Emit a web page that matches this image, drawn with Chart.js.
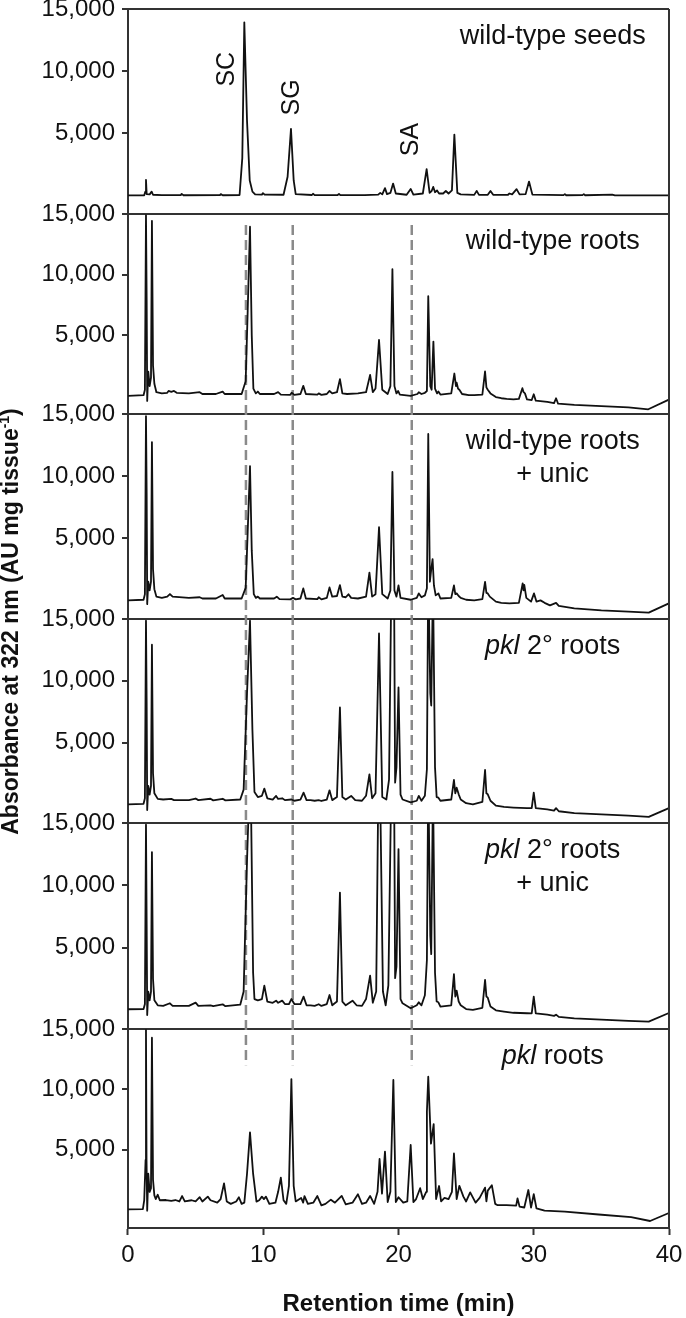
<!DOCTYPE html>
<html>
<head>
<meta charset="utf-8">
<script src="https://cdn.jsdelivr.net/npm/chart.js@4.4.1/dist/chart.umd.min.js"></script>
<style>
  html, body { margin: 0; padding: 0; background: #fff; }
</style>
</head>
<body>
<canvas id="chroma" width="686" height="1318"></canvas>
<script>
// retention time (min), absorbance (AU mg tissue-1)
const wtSeeds = [[0,0],[1.2,0],[1.28,300],[1.33,1250],[1.38,100],[1.6,80],[1.75,300],[1.85,50],[2.5,20],[3.9,20],[3.97,120],[4.1,10],[6.8,20],[6.86,100],[7,10],[8.25,30],[8.45,3000],[8.6,13930],[8.8,6000],[9.0,1200],[9.2,300],[9.4,80],[9.9,60],[9.98,180],[10.1,60],[11.5,50],[11.8,1500],[12.05,5350],[12.25,1200],[12.4,100],[13.6,30],[13.68,130],[13.8,20],[15.5,30],[15.6,110],[15.7,20],[17.5,20],[18.5,60],[18.65,200],[18.8,80],[19.0,580],[19.15,100],[19.4,200],[19.6,950],[19.8,150],[20.6,50],[20.9,520],[21.1,60],[21.8,150],[22.08,2115],[22.3,200],[22.45,350],[22.57,680],[22.7,250],[22.85,400],[23.0,150],[23.3,150],[23.5,350],[23.7,150],[23.95,400],[24.13,4890],[24.35,200],[24.6,80],[25.6,40],[25.78,360],[25.95,40],[26.6,40],[26.8,360],[27.0,40],[28.1,50],[28.2,150],[28.4,80],[28.73,500],[28.95,80],[29.4,100],[29.65,1110],[29.9,60],[32.2,20],[32.3,100],[32.4,10],[33.6,20],[33.7,100],[33.8,10],[35.8,60],[36,0],[40,0]];

const wtRoots = [[0,0],[1.15,50],[1.25,500],[1.33,14900],[1.38,7870],[1.42,-420],[1.5,2000],[1.6,800],[1.7,1500],[1.77,14440],[1.85,2500],[1.95,1000],[2.1,300],[2.5,200],[2.9,250],[3.0,400],[3.2,330],[3.4,400],[3.6,250],[4.5,200],[5.3,300],[5.5,150],[6.5,150],[7.0,350],[7.15,150],[8.4,150],[8.7,1200],[8.85,7000],[9.02,13950],[9.15,5000],[9.27,600],[9.45,200],[9.6,350],[9.75,150],[10.8,150],[11.1,300],[11.3,100],[12.0,80],[12.1,250],[12.3,80],[12.75,150],[12.96,820],[13.15,150],[14.0,100],[14.1,200],[14.3,80],[14.7,150],[14.9,400],[15.1,200],[15.45,300],[15.67,1375],[15.85,200],[16.2,150],[17.0,200],[17.6,300],[17.9,1730],[18.1,300],[18.3,600],[18.56,4610],[18.8,500],[19.2,150],[19.4,800],[19.55,10440],[19.7,800],[19.85,200],[19.97,400],[20.1,100],[20.9,0],[21.4,150],[21.5,300],[21.7,150],[21.95,250],[22.1,400],[22.2,8220],[22.35,800],[22.45,500],[22.58,4470],[22.7,600],[22.85,200],[22.95,350],[23.1,100],[23.9,200],[24.13,1840],[24.25,800],[24.3,1090],[24.4,600],[24.5,500],[24.7,150],[25.2,50],[25.6,50],[26.2,100],[26.4,2010],[26.5,700],[26.6,500],[26.8,200],[27.2,-100],[27.6,-200],[28.0,-250],[28.5,-300],[28.9,-250],[29.16,630],[29.25,300],[29.35,200],[29.5,-300],[29.85,-350],[30.0,130],[30.15,-400],[31.0,-500],[31.5,-600],[31.65,-200],[31.8,-650],[33,-750],[35,-850],[37,-950],[38.47,-1110],[39.95,-330]];

const wtRootsUnic = [[0,0],[1.15,50],[1.25,500],[1.33,14830],[1.38,8540],[1.42,-300],[1.5,1500],[1.6,800],[1.7,1500],[1.77,12740],[1.85,2500],[1.95,900],[2.1,300],[2.5,200],[2.9,300],[3.1,510],[3.3,300],[4.5,200],[5.3,250],[5.5,150],[6.5,150],[7.0,430],[7.15,150],[8.4,150],[8.7,1000],[8.85,5500],[9.02,10810],[9.15,4000],[9.3,500],[9.45,200],[9.6,300],[9.75,150],[10.8,150],[11.0,300],[11.2,100],[12.0,80],[12.2,200],[12.4,80],[12.75,150],[12.96,965],[13.15,150],[14.0,100],[14.1,250],[14.3,80],[14.7,200],[14.9,1045],[15.1,300],[15.45,350],[15.67,1230],[15.85,300],[16.1,250],[16.3,490],[16.5,200],[17.0,150],[17.6,300],[17.85,2230],[18.05,300],[18.3,500],[18.56,5890],[18.8,500],[19.2,150],[19.4,800],[19.55,10340],[19.7,800],[19.85,300],[20.0,1210],[20.15,200],[20.9,50],[21.35,200],[21.5,560],[21.7,250],[21.95,400],[22.1,970],[22.2,13390],[22.32,1500],[22.42,2500],[22.52,3320],[22.62,1200],[22.75,400],[22.95,560],[23.1,150],[23.9,200],[24.1,1200],[24.2,500],[24.3,560],[24.45,350],[24.6,200],[25.0,50],[25.6,0],[26.2,100],[26.4,1490],[26.5,600],[26.6,560],[26.75,300],[27.2,-100],[27.6,-200],[28.2,-250],[28.9,-200],[29.1,900],[29.18,1370],[29.25,800],[29.3,1250],[29.45,200],[29.8,-100],[30.02,560],[30.2,-100],[30.5,0],[30.8,-200],[31.2,-400],[31.65,-200],[31.85,-450],[33,-640],[35,-800],[37,-900],[38.5,-990],[39.95,-260]];

const pkl2Roots = [[0,0],[1.15,50],[1.25,500],[1.33,14860],[1.38,8110],[1.42,-450],[1.5,1500],[1.6,800],[1.7,1500],[1.77,12920],[1.85,2500],[1.95,900],[2.2,450],[2.6,400],[3.2,450],[3.4,350],[4.5,350],[5.0,480],[5.2,350],[6.1,460],[6.3,330],[7.0,460],[7.2,330],[8.3,400],[8.55,1200],[8.8,9000],[9.02,14860],[9.2,6000],[9.35,1000],[9.6,600],[9.9,700],[10.08,1280],[10.3,500],[10.7,400],[10.95,690],[11.1,450],[11.4,500],[11.6,350],[12.08,400],[12.3,300],[12.75,400],[12.98,955],[13.2,350],[13.5,350],[13.8,300],[14.1,350],[14.3,280],[14.7,400],[14.9,1140],[15.1,350],[15.45,600],[15.67,7840],[15.85,600],[16.1,400],[16.5,690],[16.8,350],[17.3,300],[17.6,700],[17.85,2440],[18.05,500],[18.3,900],[18.56,13830],[18.8,600],[19.1,400],[19.3,2000],[19.45,16000],[19.55,20000],[19.68,16000],[19.75,1760],[19.85,3000],[20.0,9460],[20.15,800],[20.3,400],[20.9,170],[21.35,300],[21.5,690],[21.7,300],[21.95,700],[22.1,2850],[22.2,19000],[22.35,9000],[22.42,8000],[22.55,18000],[22.7,3000],[22.82,600],[22.95,550],[23.1,300],[23.9,400],[24.1,1980],[24.2,900],[24.3,1360],[24.45,820],[24.6,400],[25.0,100],[25.5,5],[26.2,200],[26.4,2790],[26.5,900],[26.6,820],[26.8,300],[27.2,-100],[27.8,-200],[28.5,-250],[29.5,-300],[29.85,-300],[30.0,955],[30.15,-300],[31.0,-400],[31.5,-500],[31.65,-300],[31.85,-550],[33,-700],[35,-800],[37,-900],[38.5,-1010],[39.95,-320]];

const pkl2RootsUnic = [[0,80],[1.15,100],[1.25,500],[1.33,14860],[1.38,6840],[1.42,-380],[1.5,1500],[1.6,800],[1.7,1500],[1.77,12670],[1.85,2500],[1.95,800],[2.2,400],[2.6,350],[3.1,560],[3.3,350],[4.5,350],[5.0,610],[5.2,350],[6.1,400],[6.3,330],[7.0,480],[7.2,330],[8.3,450],[8.55,1500],[8.8,12000],[8.95,17000],[9.1,16000],[9.25,3000],[9.35,900],[9.6,800],[9.9,900],[10.08,1980],[10.3,700],[10.7,600],[10.95,770],[11.1,600],[11.4,770],[11.6,500],[11.9,500],[12.08,900],[12.3,500],[12.75,500],[12.98,1090],[13.2,400],[13.5,400],[13.8,350],[14.1,480],[14.3,350],[14.7,500],[14.9,1220],[15.1,400],[15.45,700],[15.67,9430],[15.85,700],[16.1,400],[16.6,770],[16.9,400],[17.3,350],[17.6,900],[17.9,2780],[18.1,600],[18.35,1500],[18.5,17000],[18.65,17000],[18.85,1500],[19.05,390],[19.25,2000],[19.45,17000],[19.55,20000],[19.68,17000],[19.75,2570],[19.85,3500],[20.0,12910],[20.15,900],[20.3,560],[20.9,160],[21.35,400],[21.5,640],[21.7,400],[21.95,1200],[22.1,4030],[22.2,19000],[22.35,6000],[22.42,4500],[22.55,18000],[22.7,3000],[22.82,700],[22.95,640],[23.1,300],[23.9,400],[24.1,2890],[24.2,1100],[24.3,1580],[24.45,700],[24.6,400],[25.0,100],[25.5,40],[26.2,200],[26.4,2430],[26.5,1100],[26.6,1010],[26.8,300],[27.2,0],[27.8,-100],[28.5,-200],[29.5,-240],[29.85,-250],[30.0,1090],[30.15,-250],[31.0,-350],[31.5,-450],[31.65,-350],[31.85,-530],[33,-650],[35,-750],[37,-850],[38.5,-910],[39.95,-240]];

const pklRoots = [[0,50],[1.1,60],[1.2,820],[1.3,4140],[1.33,14920],[1.37,4140],[1.42,-60],[1.5,3000],[1.6,1500],[1.7,1800],[1.77,14280],[1.85,2500],[1.95,1200],[2.05,900],[2.2,1260],[2.35,800],[2.8,820],[3.2,750],[3.5,820],[3.8,700],[4.0,1150],[4.2,700],[4.7,800],[5.0,700],[5.3,1050],[5.5,700],[5.9,1100],[6.1,800],[6.6,600],[6.85,900],[7.1,2200],[7.3,700],[7.6,500],[8.0,700],[8.2,1050],[8.4,500],[8.6,600],[8.8,3000],[9.02,6430],[9.25,3000],[9.5,690],[9.7,800],[9.9,1100],[10.05,900],[10.2,1100],[10.45,500],[10.9,600],[11.1,1500],[11.3,2670],[11.5,800],[11.7,500],[11.9,2000],[12.08,10850],[12.25,2000],[12.4,700],[12.8,990],[12.95,600],[13.05,1150],[13.3,500],[13.7,600],[14.0,1150],[14.3,380],[14.6,500],[15.0,850],[15.3,600],[15.8,1160],[16.1,460],[16.6,600],[17.0,1300],[17.3,500],[17.6,600],[17.9,1160],[18.2,500],[18.45,1500],[18.6,4220],[18.78,1350],[19.0,4840],[19.2,650],[19.4,1500],[19.62,10770],[19.8,650],[20.0,1050],[20.35,600],[20.65,700],[20.9,5380],[21.1,650],[21.3,900],[21.6,1800],[21.8,900],[22.05,1500],[22.1,8140],[22.2,11040],[22.4,5490],[22.6,7120],[22.78,900],[23.0,1980],[23.15,700],[23.4,1000],[23.7,900],[23.95,1500],[24.1,4680],[24.3,900],[24.5,2000],[24.8,1100],[25.0,700],[25.3,1450],[25.7,600],[26.0,1000],[26.4,1850],[26.5,700],[26.6,1600],[26.9,2050],[27.15,500],[27.3,400],[28.0,400],[28.7,350],[28.8,950],[28.95,280],[29.3,200],[29.6,1650],[29.8,200],[30.0,1300],[30.2,130],[30.8,-60],[32.3,-150],[34.8,-380],[37.2,-600],[38.6,-920],[39.95,-280]];

const traces = [wtSeeds, wtRoots, wtRootsUnic, pkl2Roots, pkl2RootsUnic, pklRoots];
const yTicks = [5000, 10000, 15000];
const xTicks = [0, 10, 20, 30, 40];
// retention times of the marked standards (SC, SG, SA)
const markerTimes = [8.72, 12.18, 20.98];
const peakNames = ['SC', 'SG', 'SA'];

const panelLabels = [
  [[['wild-type seeds', false]]],
  [[['wild-type roots', false]]],
  [[['wild-type roots', false]], [['+ unic', false]]],
  [[['pkl', true], [' 2\u00b0 roots', false]]],
  [[['pkl', true], [' 2\u00b0 roots', false]], [['+ unic', false]]],
  [[['pkl', true], [' roots', false]]]
];

const FONT = "'Liberation Sans', Arial, Helvetica, sans-serif";
const INK = '#111';
const AXIS = '#333';
const panelIds = ['y1', 'y2', 'y3', 'y4', 'y5', 'y6'];
const panelHeights = [205, 200, 205, 204, 206, 199];

// each panel gets its own y axis, stacked on the left
const scales = {
  x: {
    type: 'linear', position: 'bottom', min: 0, max: 40,
    afterBuildTicks: s => { s.ticks = xTicks.map(v => ({ value: v })); },
    ticks: { color: INK, font: { family: FONT, size: 24 }, padding: 6, maxRotation: 0 },
    grid: { drawOnChartArea: false, tickLength: 7, tickColor: AXIS, tickWidth: 2 },
    border: { color: AXIS, width: 2 },
    afterFit: s => { s.height = 90; s.paddingLeft = 0; s.paddingRight = 0; }
  }
};
panelIds.forEach((id, i) => {
  scales[id] = {
    type: 'linear', position: 'left', stack: 'runs', stackWeight: panelHeights[i],
    weight: 10 - i,
    min: -1500, max: 15000,
    afterBuildTicks: s => { s.ticks = yTicks.map(v => ({ value: v })); },
    ticks: {
      color: INK, font: { family: FONT, size: 24 }, padding: 7, autoSkip: false,
      callback: v => v.toLocaleString('en-US')
    },
    grid: {
      color: c => (c.tick && c.tick.value === 15000) ? AXIS : 'rgba(0,0,0,0)',
      lineWidth: 2, tickLength: 6, tickColor: AXIS, tickWidth: 2
    },
    border: { color: AXIS, width: 2 },
    afterFit: s => { s.width = 128; s.paddingTop = 0; s.paddingBottom = 0; }
  };
});

// keep each trace inside its own panel (off-scale peaks get cut at 15,000)
const panelClip = {
  id: 'panelClip',
  beforeDatasetDraw(chart, args) {
    const ys = chart.scales[args.meta.yAxisID];
    const a = chart.chartArea;
    chart.ctx.save();
    chart.ctx.beginPath();
    chart.ctx.rect(a.left, ys.top, a.right - a.left, ys.bottom - ys.top);
    chart.ctx.clip();
  },
  afterDatasetDraw(chart) { chart.ctx.restore(); }
};

const decorations = {
  id: 'decorations',
  beforeDatasetsDraw(chart) {
    const { ctx, scales } = chart;
    const top = scales.y2.getPixelForValue(14100);
    const bottom = scales.y6.getPixelForValue(12000);
    ctx.save();
    ctx.strokeStyle = '#8a8a8a';
    ctx.lineWidth = 2.5;
    ctx.setLineDash([10, 5]);
    markerTimes.forEach(t => {
      const px = scales.x.getPixelForValue(t);
      ctx.beginPath();
      ctx.moveTo(px, top);
      ctx.lineTo(px, bottom);
      ctx.stroke();
    });
    ctx.restore();
  },
  afterDraw(chart) {
    const { ctx, scales, chartArea: a } = chart;
    ctx.save();
    // right-hand frame
    ctx.strokeStyle = AXIS;
    ctx.lineWidth = 2;
    ctx.beginPath();
    ctx.moveTo(a.right, a.top);
    ctx.lineTo(a.right, a.bottom);
    ctx.stroke();

    ctx.fillStyle = INK;
    // panel names
    const cx = scales.x.getPixelForValue(31.4);
    panelLabels.forEach((lines, i) => {
      const ys = scales[panelIds[i]];
      lines.forEach((segs, j) => {
        const fonts = segs.map(s => (s[1] ? 'italic ' : '') + '27px ' + FONT);
        let w = 0;
        segs.forEach((s, k) => { ctx.font = fonts[k]; w += ctx.measureText(s[0]).width; });
        let x = cx - w / 2;
        const y = ys.top + 35 + j * 33;
        ctx.textAlign = 'left';
        ctx.textBaseline = 'alphabetic';
        segs.forEach((s, k) => {
          ctx.font = fonts[k];
          ctx.fillText(s[0], x, y);
          x += ctx.measureText(s[0]).width;
        });
      });
    });

    // peak names, rotated
    const peakPos = [[7.32, 10150], [12.13, 7880], [20.92, 4490]];
    ctx.font = '25px ' + FONT;
    ctx.textAlign = 'center';
    ctx.textBaseline = 'middle';
    peakNames.forEach((name, i) => {
      ctx.save();
      ctx.translate(scales.x.getPixelForValue(peakPos[i][0]), scales.y1.getPixelForValue(peakPos[i][1]));
      ctx.rotate(-Math.PI / 2);
      ctx.fillText(name, 0, 0);
      ctx.restore();
    });

    // x axis title
    ctx.font = 'bold 24px ' + FONT;
    ctx.textAlign = 'center';
    ctx.textBaseline = 'middle';
    ctx.fillText('Retention time (min)', (a.left + a.right) / 2, 1304);

    // y axis title with superscript
    ctx.save();
    ctx.translate(10, (a.top + a.bottom) / 2 + 3);
    ctx.rotate(-Math.PI / 2);
    const main = 'Absorbance at 322 nm (AU mg tissue', sup = '-1', end = ')';
    const fMain = 'bold 23px ' + FONT, fSup = 'bold 14px ' + FONT;
    ctx.font = fMain;
    const w1 = ctx.measureText(main).width, w3 = ctx.measureText(end).width;
    ctx.font = fSup;
    const w2 = ctx.measureText(sup).width;
    let x = -(w1 + w2 + w3) / 2;
    ctx.textAlign = 'left';
    ctx.textBaseline = 'alphabetic';
    ctx.font = fMain; ctx.fillText(main, x, 8); x += w1;
    ctx.font = fSup; ctx.fillText(sup, x, -1); x += w2;
    ctx.font = fMain; ctx.fillText(end, x, 8);
    ctx.restore();

    ctx.restore();
  }
};

new Chart(document.getElementById('chroma'), {
  type: 'line',
  data: {
    datasets: traces.map((tr, i) => ({
      data: tr.map(p => ({ x: p[0], y: p[1] })),
      yAxisID: panelIds[i],
      borderColor: INK,
      borderWidth: 1.8,
      borderJoinStyle: 'round',
      pointRadius: 0,
      tension: 0,
      fill: false
    }))
  },
  options: {
    responsive: false,
    animation: false,
    layout: { padding: { top: 9, right: 17, bottom: 0, left: 0 } },
    plugins: { legend: { display: false }, tooltip: { enabled: false } },
    scales: scales
  },
  plugins: [panelClip, decorations]
});
</script>
</body>
</html>
